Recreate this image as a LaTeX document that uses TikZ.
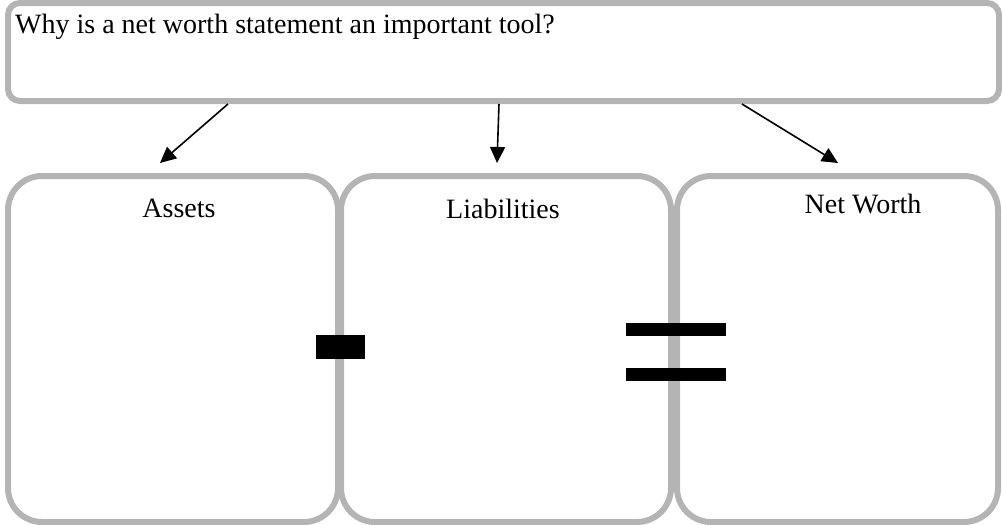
\documentclass[tikz,border=0pt]{standalone}
\usepackage{fontspec}
\setmainfont{Liberation Serif}
\usetikzlibrary{arrows.meta}
\definecolor{framegrey}{RGB}{180,180,180}
\begin{document}
\begin{tikzpicture}[x=1pt,y=-1pt,
  panel/.style={draw=framegrey, line width=6pt, rounded corners=34pt, fill=none, inner sep=0pt},
  qpanel/.style={draw=framegrey, line width=6pt, rounded corners=12pt, inner sep=0pt},
  label/.style={inner sep=0pt, anchor=base, font=\fontsize{28}{33}\selectfont},
  link/.style={line width=1.6pt, -{Triangle[length=16pt,width=15pt]}},
  bar/.style={fill=black, draw=none}]
\useasboundingbox (0,0) rectangle (1002,525);

% question box across the top
\node[qpanel, minimum width=991pt, minimum height=98pt] (question) at (503.5,52) {};
\node[label, anchor=base west] (qtext) at (15,33) {Why is a net worth statement an important tool?};

% the three columns of the statement
\node[panel, minimum width=330pt, minimum height=346pt] (assets) at (173,349) {};
\node[panel, minimum width=330pt, minimum height=346pt] (liab) at (506,349) {};
\node[panel, minimum width=321pt, minimum height=346pt] (worth) at (837.5,349) {};

\node[label] (assetstxt) at (179,217) {Assets};
\node[label] (liabtxt) at (503,218) {Liabilities};
\node[label] (worthtxt) at (863,213) {Net Worth};

% minus and equals signs
\fill[bar] (316,335) rectangle (365,359);
\fill[bar] (626,323) rectangle (726,336);
\fill[bar] (626,368) rectangle (726,381);

% arrows from the question to each column
\coordinate (s1) at (228,104);
\coordinate (s2) at (499,104);
\coordinate (s3) at (742,104);
\coordinate (e1) at (160,163);
\coordinate (e2) at (497,163);
\coordinate (e3) at (838,163);
\draw[link] (s1) -- (e1);
\draw[link] (s2) -- (e2);
\draw[link] (s3) -- (e3);
\end{tikzpicture}
\end{document}
